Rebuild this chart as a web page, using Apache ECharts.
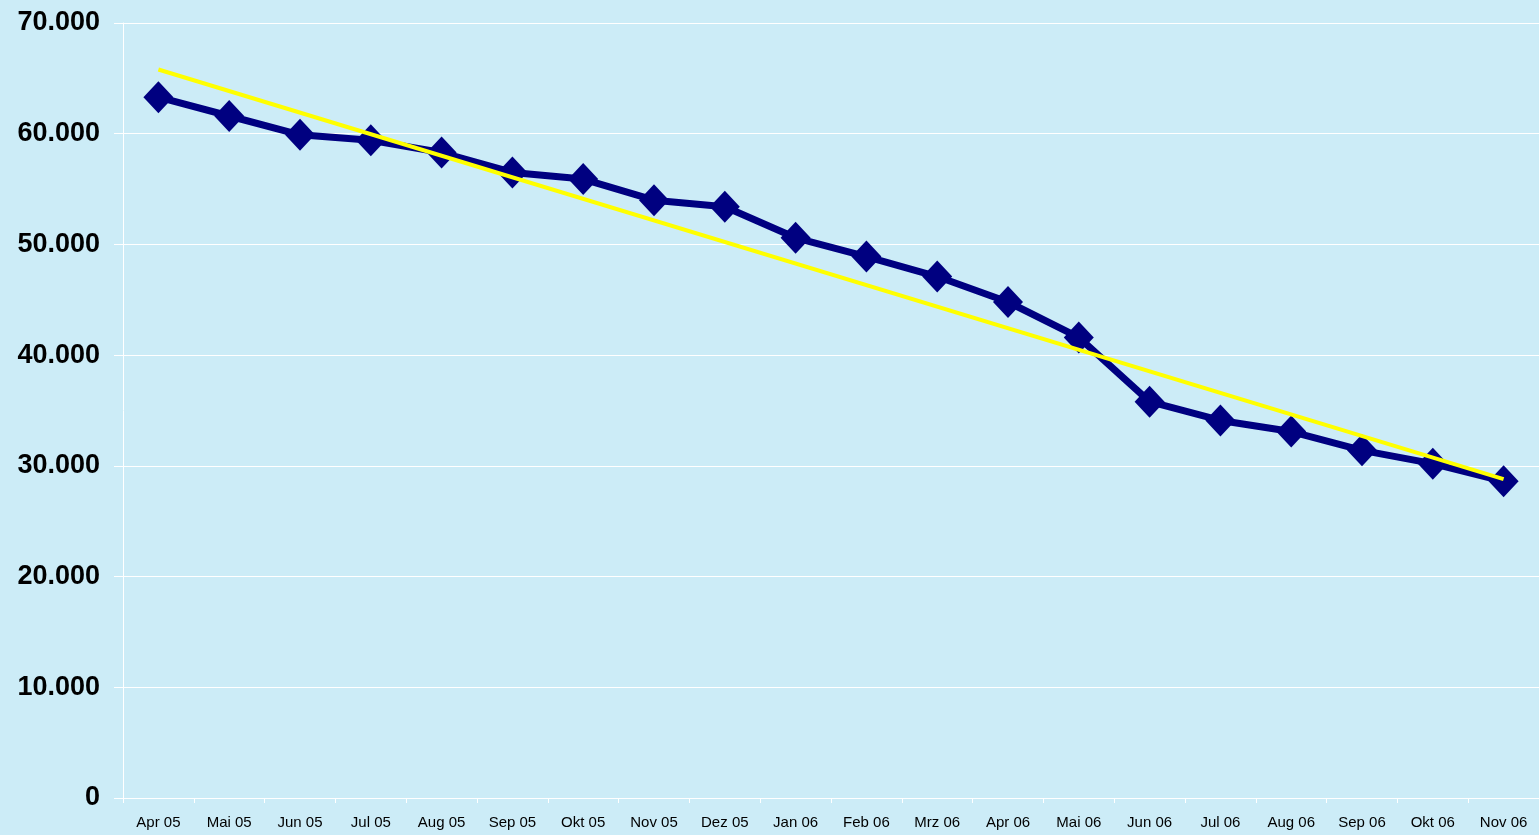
<!DOCTYPE html>
<html><head><meta charset="utf-8">
<script src="https://cdn.jsdelivr.net/npm/echarts@6/dist/echarts.min.js"></script>
<style>html,body{margin:0;padding:0;background:#CCECF7;}#c{width:1539px;height:835px;}</style>
</head><body><div id="c"></div>
<script>
const categories = ['Apr 05','Mai 05','Jun 05','Jul 05','Aug 05','Sep 05','Okt 05','Nov 05','Dez 05','Jan 06','Feb 06','Mrz 06','Apr 06','Mai 06','Jun 06','Jul 06','Aug 06','Sep 06','Okt 06','Nov 06'];
const values = [63300,61600,59900,59400,58300,56500,55900,54000,53400,50600,48900,47100,44800,41600,35800,34100,33100,31400,30200,28600];
const trend = [65800,null,null,null,null,null,null,null,null,null,null,null,null,null,null,null,null,null,null,28800];
const yTicks = {min:0, max:70000, interval:10000};

const chart = echarts.init(document.getElementById('c'));
chart.setOption({
  backgroundColor:'#CCECF7',
  animation:false,
  grid:{left:123,top:23,right:0,bottom:37,containLabel:false},
  xAxis:{type:'category',data:categories,boundaryGap:true,
    axisLine:{lineStyle:{color:'#ffffff',width:1}},
    axisTick:{show:true,length:5,lineStyle:{color:'#ffffff'},alignWithLabel:false},
    axisLabel:{color:'#000',fontFamily:'Liberation Sans, Arial',fontSize:15,margin:17,interval:0}
  },
  yAxis:{type:'value',min:yTicks.min,max:yTicks.max,interval:yTicks.interval,
    axisLine:{show:true,lineStyle:{color:'#ffffff',width:1}},
    axisTick:{show:true,length:9,lineStyle:{color:'#ffffff'}},
    splitLine:{show:true,lineStyle:{color:'#ffffff',width:1}},
    axisLabel:{color:'#000',fontFamily:'Liberation Sans, Arial',fontSize:27,fontWeight:'bold',margin:23,
      formatter:v=>String(v).replace(/\B(?=(\d{3})+(?!\d))/g,'.')}
  },
  series:[
    {type:'line',data:values,color:'#000080',lineStyle:{color:'#000080',width:7},
     symbol:'diamond',symbolSize:[30,32],itemStyle:{color:'#000080'},z:2},
    {type:'line',data:trend,connectNulls:true,lineStyle:{color:'#FFFF00',width:4},
     symbol:'none',z:3}
  ]
});
</script></body></html>
